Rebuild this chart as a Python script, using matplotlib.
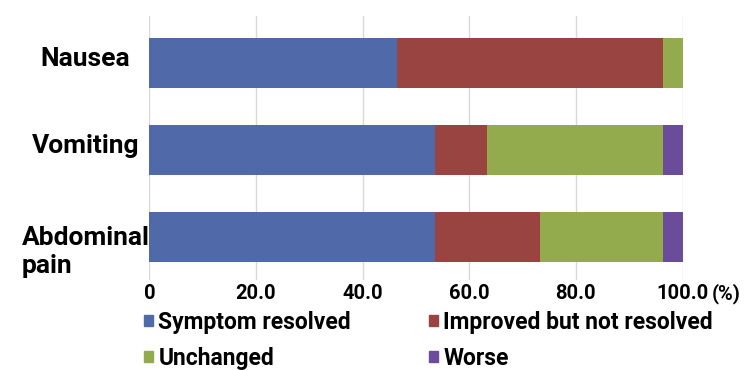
import numpy as np
import matplotlib
matplotlib.use('Agg')
import matplotlib.pyplot as plt
from matplotlib.patches import Patch
from matplotlib.transforms import ScaledTranslation

plt.rcParams['font.family'] = ['Roboto', 'DejaVu Sans']
plt.rcParams['font.weight'] = 'bold'

# data (% of patients)
symptoms = ['Nausea', 'Vomiting', 'Abdominal\npain']
resolved = [46.4, 53.6, 53.6]
improved = [50.0, 9.8, 19.7]
unchanged = [3.6, 33.0, 23.1]
worse = [0.0, 3.6, 3.6]
series_names = ['Symptom resolved', 'Improved but not resolved', 'Unchanged', 'Worse']
x_ticks = [0, 20, 40, 60, 80, 100]
x_tick_labels = ['0', '20.0', '40.0', '60.0', '80.0', '100.0']

colors = ['#5069A8', '#9A4441', '#93AB4D', '#6B4C9A']

fig = plt.figure(figsize=(7.47, 3.70), dpi=100)
ax = fig.add_axes([0.1999, 0.2432, 0.7138, 0.7136])

y = np.arange(len(symptoms))
left = np.zeros(len(symptoms))
for vals, c in zip([resolved, improved, unchanged, worse], colors):
    ax.barh(y, vals, left=left, height=0.575, color=c, zorder=3)
    left += np.array(vals)

ax.set_xlim(0, 100)
ax.set_ylim(2.49, -0.54)
ax.set_xticks(x_ticks)
ax.set_xticklabels(x_tick_labels, fontsize=14.5, fontweight='bold')
ax.set_yticks(y)
ax.set_yticklabels(symptoms, fontsize=19, fontweight='bold', ha='center',
                   multialignment='left')
ax.tick_params(axis='y', length=0, pad=46)
ax.tick_params(axis='x', length=0, pad=3)
ax.grid(axis='x', color='#D9D9D9', lw=1, zorder=0)
for s in ax.spines.values():
    s.set_visible(False)

# nudge category labels to sit like the original
shifts = [7, 7, -10]
for lab, dy in zip(ax.get_yticklabels(), shifts):
    lab.set_transform(lab.get_transform() + ScaledTranslation(0, dy / 100, fig.dpi_scale_trans))

fig.text(712 / 747, 1 - 283 / 370, '(%)', fontsize=14.5, fontweight='bold', va='top', ha='left')

handles = [Patch(color=c) for c in colors]
order = [0, 2, 1, 3]
fig.legend([handles[i] for i in order], [series_names[i] for i in order],
           ncol=2, loc='upper left', bbox_to_anchor=(144 / 747, 1 - 311 / 370),
           frameon=False, fontsize=16.5, handlelength=0.38, handleheight=0.38,
           handletextpad=0.25, columnspacing=3.4, labelspacing=0.57,
           borderaxespad=0, borderpad=0)

plt.savefig('out.png', dpi=100)
